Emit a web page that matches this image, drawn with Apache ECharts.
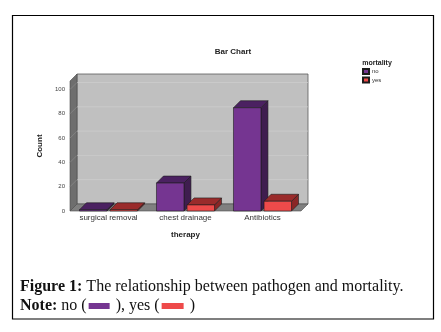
<!DOCTYPE html>
<html><head><meta charset="utf-8">
<script src="https://cdn.jsdelivr.net/npm/echarts@6/dist/echarts.min.js"></script>
<style>html,body{margin:0;padding:0;background:#fff}#c{width:441px;height:332px}</style>
</head><body><div id="c"></div>
<script>
const categories = ['surgical removal', 'chest drainage', 'Antibiotics'];
const seriesNames = ['no', 'yes'];
const noValues = [1, 23, 85];
const yesValues = [1, 5, 8];
const yTicks = [0, 20, 40, 60, 80, 100];

const DX = 7, DY = -7;
const STROKE = '#1c1c1c';
const palette = [
  {front: '#753591', top: '#4b2161', side: '#3f1d4f'},
  {front: '#ee4a4a', top: '#9a2b2b', side: '#8a2626'}
];

function barRender(idx) {
  const c = palette[idx];
  return function (params, api) {
    const ci = api.value(0), v = api.value(1);
    const base = api.coord([ci, 0]);
    const top = api.coord([ci, v]);
    const band = api.size([1, 0])[0];
    const w = band * 0.357, gap = band * 0.04;
    const x0 = idx === 0 ? base[0] - gap / 2 - w : base[0] + gap / 2;
    const x1 = x0 + w, yb = base[1], yt = top[1];
    return {type: 'group', children: [
      {type: 'polygon', shape: {points: [[x1, yb], [x1 + DX, yb + DY], [x1 + DX, yt + DY], [x1, yt]]},
        style: {fill: c.side, stroke: STROKE, lineWidth: 0.6}},
      {type: 'polygon', shape: {points: [[x0, yt], [x1, yt], [x1 + DX, yt + DY], [x0 + DX, yt + DY]]},
        style: {fill: c.top, stroke: STROKE, lineWidth: 0.6}},
      {type: 'rect', shape: {x: x0, y: yt, width: w, height: yb - yt},
        style: {fill: c.front, stroke: STROKE, lineWidth: 0.6}}
    ]};
  };
}

function wallRender(params, api) {
  const cs = params.coordSys;
  const L = cs.x, T = cs.y, R = cs.x + cs.width, B = cs.y + cs.height;
  const ch = [];
  ch.push({type: 'rect', shape: {x: L + DX, y: T + DY, width: R - L, height: B - T},
    style: {fill: '#c0c0c0', stroke: '#5a5a5a', lineWidth: 0.8}});
  ch.push({type: 'polygon', shape: {points: [[L, B], [L + DX, B + DY], [L + DX, T + DY], [L, T]]},
    style: {fill: '#6e6e6e', stroke: '#4a4a4a', lineWidth: 0.6}});
  yTicks.forEach(function (t) {
    if (t === 0) return;
    const yy = api.coord([0, t])[1];
    ch.push({type: 'line', shape: {x1: L + DX, y1: yy + DY, x2: R + DX, y2: yy + DY},
      style: {stroke: '#cfcfcf', lineWidth: 0.7}});
    ch.push({type: 'line', shape: {x1: L, y1: yy, x2: L + DX, y2: yy + DY},
      style: {stroke: '#8a8a8a', lineWidth: 0.7}});
  });
  ch.push({type: 'polygon', shape: {points: [[L, B], [R, B], [R + DX, B + DY], [L + DX, B + DY]]},
    style: {fill: '#808080', stroke: '#4a4a4a', lineWidth: 0.6}});
  return {type: 'group', children: ch};
}

const chart = echarts.init(document.getElementById('c'), null, {renderer: 'canvas'});
const valuesBySeries = [noValues, yesValues];

chart.setOption({
  animation: false,
  grid: {left: 70, top: 81, width: 231, height: 130, containLabel: false},
  xAxis: {
    type: 'category', data: categories,
    axisLine: {show: false}, axisTick: {show: false},
    axisLabel: {fontSize: 8, color: '#333', fontFamily: 'Arial', margin: 3},
    name: 'therapy', nameLocation: 'middle', nameGap: 20,
    nameTextStyle: {fontSize: 8, fontWeight: 'bold', color: '#222', fontFamily: 'Arial'}
  },
  yAxis: {
    type: 'value', min: 0, max: 107, interval: 20,
    axisLine: {show: false}, axisTick: {show: false}, splitLine: {show: false},
    axisLabel: {fontSize: 6, color: '#444', fontFamily: 'Arial', margin: 5, showMaxLabel: false,
      formatter: function (v) { return yTicks.indexOf(v) >= 0 ? String(v) : ''; }},
    name: 'Count', nameLocation: 'middle', nameGap: 24, nameRotate: 90,
    nameTextStyle: {fontSize: 8, fontWeight: 'bold', color: '#222', fontFamily: 'Arial'}
  },
  legend: {
    data: seriesNames, orient: 'vertical', left: 362, top: 68,
    itemWidth: 6, itemHeight: 5, itemGap: 1.5, icon: 'rect',
    textStyle: {fontSize: 6, color: '#333', fontFamily: 'Arial', padding: [0, 0, 0, -2]},
    padding: 0
  },
  series: [
    {type: 'custom', name: '_walls', renderItem: wallRender, data: [[0, 0]], silent: true, z: 1,
      encode: {x: 0, y: 1}},
  ].concat(seriesNames.map(function (n, i) {
    return {
      type: 'custom', name: n, z: 2 + i,
      itemStyle: {color: palette[i].front, borderColor: STROKE, borderWidth: 0.5},
      renderItem: barRender(i),
      encode: {x: 0, y: 1},
      data: valuesBySeries[i].map(function (v, k) { return [k, v]; })
    };
  })),
  graphic: [
    {type: 'rect', shape: {x: 12.5, y: 15.5, width: 421, height: 303.5},
      style: {fill: 'none', stroke: '#000', lineWidth: 1.2}},
    {type: 'text', x: 233, y: 52, style: {text: 'Bar Chart', align: 'center', verticalAlign: 'middle',
      font: 'bold 8px Arial', fill: '#222'}},
    {type: 'text', x: 377, y: 63, style: {text: 'mortality', align: 'center', verticalAlign: 'middle',
      font: 'bold 7px Arial', fill: '#222'}},
    {type: 'text', x: 20, y: 287, style: {
      text: '{b|Figure 1:} The relationship between pathogen and mortality.',
      verticalAlign: 'middle', font: '16px "Liberation Serif"', fill: '#111',
      rich: {b: {fontWeight: 'bold', fontSize: 16, fontFamily: 'Liberation Serif', fill: '#111'}}}},
    {type: 'text', x: 20, y: 306, style: {
      text: '{b|Note:} no ({s|}{p|}{s|} ), yes ({s|}{r|}{s|} )',
      verticalAlign: 'middle', font: '16px "Liberation Serif"', fill: '#111',
      rich: {
        b: {fontWeight: 'bold', fontSize: 16, fontFamily: 'Liberation Serif', fill: '#111'},
        s: {width: 2, height: 6},
        p: {backgroundColor: '#753591', width: 21, height: 6},
        r: {backgroundColor: '#ee4a4a', width: 22, height: 6}
      }}}
  ]
});
</script>
</body></html>
